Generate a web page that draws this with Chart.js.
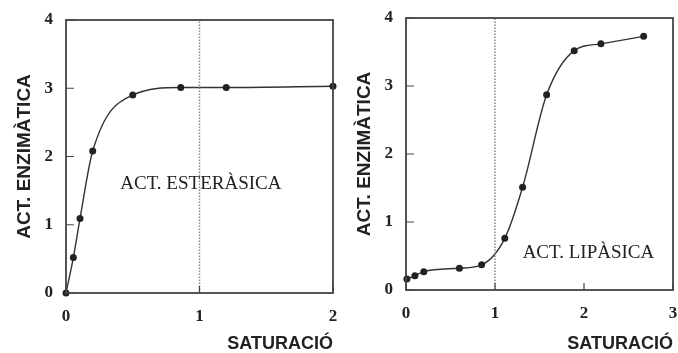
<!DOCTYPE html>
<html>
<head>
<meta charset="utf-8">
<script src="https://cdn.jsdelivr.net/npm/chart.js@4"></script>
<style>
  body { margin: 0; background: #fff; }
  #wrap { position: relative; width: 678px; height: 353px; overflow: hidden; }
  canvas { position: absolute; top: 0; }
</style>
</head>
<body>
<div id="wrap">
  <canvas id="c1" width="340" height="353" style="left:0"></canvas>
  <canvas id="c2" width="340" height="353" style="left:338px"></canvas>
</div>
<script>
// esterase activity vs saturation
const esterX = [0, 0.055, 0.105, 0.2, 0.5, 0.86, 1.2, 2.0];
const esterY = [0, 0.52, 1.09, 2.08, 2.9, 3.01, 3.01, 3.03];
// lipase activity vs saturation
const lipX = [0.01, 0.1, 0.2, 0.6, 0.85, 1.11, 1.31, 1.58, 1.89, 2.19, 2.67];
const lipY = [0.16, 0.21, 0.27, 0.32, 0.37, 0.76, 1.51, 2.87, 3.52, 3.62, 3.73];

const yTicks = [0, 1, 2, 3, 4];
const refLine = 1; // saturation = 1

const serif = "'Liberation Serif', 'DejaVu Serif', serif";
const sans = "'Liberation Sans', Arial, sans-serif";

const framePlugin = {
  id: "frame",
  afterDatasetsDraw(chart, args, opts) {
    const ctx = chart.ctx, a = chart.chartArea;
    const xs = chart.scales.x, ys = chart.scales.y;
    ctx.save();
    // dotted line at saturation 1
    ctx.strokeStyle = "#888";
    ctx.lineWidth = 1.5;
    ctx.setLineDash([1.5, 1.5]);
    ctx.beginPath();
    const px = xs.getPixelForValue(refLine);
    ctx.moveTo(px, a.bottom);
    ctx.lineTo(px, a.top);
    ctx.stroke();
    ctx.setLineDash([]);
    // frame
    ctx.strokeStyle = "#444";
    ctx.lineWidth = 1.8;
    ctx.strokeRect(a.left, a.top, a.right - a.left, a.bottom - a.top);
    // inward ticks
    ctx.lineWidth = 1.2;
    ctx.beginPath();
    ys.ticks.forEach(t => {
      const y = ys.getPixelForValue(t.value);
      ctx.moveTo(a.left, y); ctx.lineTo(a.left + 8, y);
    });
    xs.ticks.forEach(t => {
      const x = xs.getPixelForValue(t.value);
      ctx.moveTo(x, a.bottom); ctx.lineTo(x, a.bottom - 7);
    });
    ctx.stroke();
    // label inside the plot
    ctx.fillStyle = "#222";
    ctx.font = "19px " + serif;
    ctx.textAlign = "center";
    ctx.textBaseline = "middle";
    ctx.fillText(opts.text, xs.getPixelForValue(opts.at[0]), ys.getPixelForValue(opts.at[1]));
    ctx.restore();
  }
};

function makeChart(id, xs, ys, xMax, pad, yWidth, label, at, yTitlePad, xHeight) {
  return new Chart(document.getElementById(id), {
    type: "line",
    data: {
      datasets: [{
        data: xs.map((x, i) => ({x: x, y: ys[i]})),
        borderColor: "#333",
        borderWidth: 1.4,
        backgroundColor: "#222",
        pointRadius: 3.5,
        pointBorderWidth: 0,
        cubicInterpolationMode: "monotone",
        clip: false,
      }],
    },
    options: {
      responsive: false,
      devicePixelRatio: 1,
      animation: false,
      layout: {padding: pad},
      plugins: {
        legend: {display: false},
        tooltip: {enabled: false},
        frame: {text: label, at: at},
      },
      scales: {
        x: {
          type: "linear", min: 0, max: xMax,
          grid: {display: false}, border: {display: false},
          ticks: {stepSize: 1, padding: 5, color: "#222", font: {family: serif, size: 17, weight: "bold"}},
          title: {display: true, text: "SATURACIÓ", align: "end", color: "#222",
                  font: {family: sans, size: 18, weight: "bold", lineHeight: 1}, padding: {top: 0, bottom: 0}},
          afterFit: s => { s.height = xHeight; s.paddingLeft = 0; s.paddingRight = 0; },
        },
        y: {
          min: 0, max: 4,
          grid: {display: false}, border: {display: false},
          afterBuildTicks: s => { s.ticks = yTicks.map(v => ({value: v})); },
          ticks: {padding: 5, color: "#222", font: {family: serif, size: 17, weight: "bold"}},
          title: {display: true, text: "ACT. ENZIMÀTICA", color: "#222",
                  font: {family: sans, size: 19, weight: "bold"}, padding: {top: yTitlePad, bottom: 0}},
          afterFit: s => { s.width = yWidth; s.paddingTop = 0; s.paddingBottom = 0; },
        },
      },
    },
    plugins: [framePlugin],
  });
}

makeChart("c1", esterX, esterY, 2, {left: 0, right: 7, top: 20, bottom: 0}, 66,
  "ACT. ESTERÀSICA", [1.01, 1.6], 13, 60);
makeChart("c2", lipX, lipY, 3, {left: 0, right: 5, top: 18, bottom: 0}, 68,
  "ACT. LIPÀSICA", [2.05, 0.54], 15, 63);
</script>
</body>
</html>
